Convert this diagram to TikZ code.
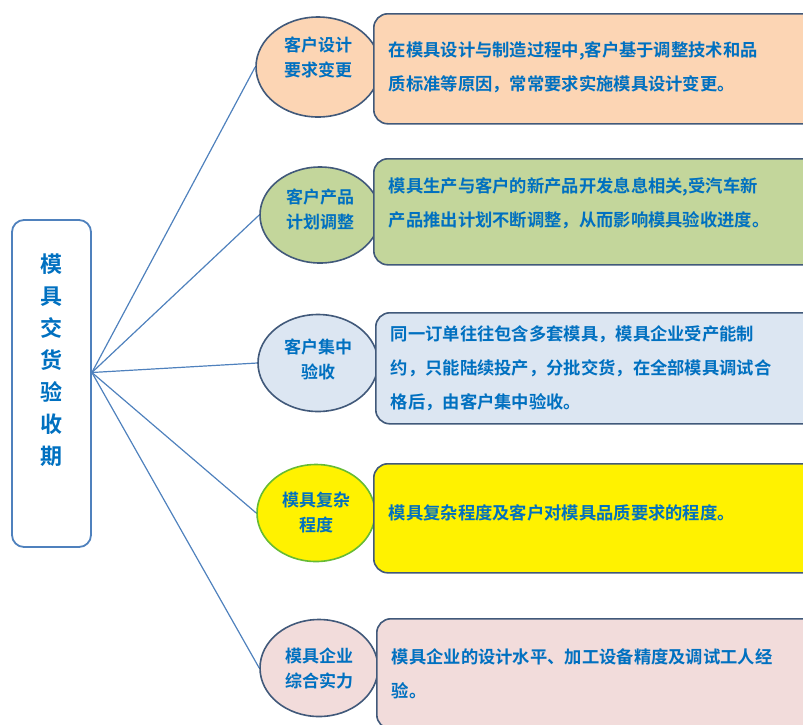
\documentclass[tikz,border=0pt]{standalone}
\usepackage{fontspec}
\newfontfamily\cjk{Noto Sans CJK SC Bold}
\usetikzlibrary{shapes.geometric}

\definecolor{txtblue}{HTML}{0070C0}
\definecolor{linkblue}{HTML}{4F81BD}
\definecolor{edgegray}{HTML}{41597A}
\definecolor{edgegreen}{HTML}{66BB33}
\definecolor{peach}{HTML}{FCD5B4}
\definecolor{olive}{HTML}{C3D69B}
\definecolor{paleblue}{HTML}{DCE6F2}
\definecolor{pink}{HTML}{F2DCDB}

\tikzset{
  factor/.style={ellipse, draw=edgegray, line width=1.6pt, minimum width=120, minimum height=97,
    inner sep=0pt, align=center, text=txtblue, font=\cjk\fontsize{17}{25}\selectfont},
  detail/.style={rectangle, rounded corners=14pt, draw=edgegray, line width=1.6pt, anchor=north west,
    text width=420pt, inner xsep=15pt, align=left, text=txtblue, font=\cjk\fontsize{17.3}{34}\selectfont},
  link/.style={draw=linkblue, line width=1.2pt}
}

\begin{document}
\begin{tikzpicture}[x=1pt, y=-1pt]
  \useasboundingbox (0,0) rectangle (803,724);

  % Delivery period (left)
  \node[rectangle, rounded corners=12pt, draw=linkblue, line width=1.8pt, minimum width=79, minimum height=327,
    align=center, text=txtblue, font=\cjk\fontsize{22}{32}\selectfont] (period) at (51.5,383.5)
    {模\\具\\交\\货\\验\\收\\期\\[16pt]\mbox{}};
  \coordinate (hub) at ([yshift=11pt]period.east);

  % Factors (ellipses)
  \node[factor, fill=peach, minimum width=124, minimum height=100] (f1) at (318,67) {客户设计\\要求变更\\[-5pt]\mbox{}};
  \node[factor, fill=olive, minimum height=96] (f2) at (320,215) {客户产品\\计划调整\\[-13pt]\mbox{}};
  \node[factor, fill=paleblue] (f3) at (318,363) {客户集中\\验收\\[-17pt]\mbox{}};
  \node[factor, fill=yellow, draw=edgegreen, minimum width=118] (f4) at (316,513) {模具复杂\\程度};
  \node[factor, fill=pink, minimum width=118] (f5) at (319,668) {模具企业\\综合实力};

  % Connect period to factors
  \foreach \i in {1,...,5} {
    \draw[link] (hub) -- (f\i.west);
  }

  % Details (boxes)
  \node[detail, fill=peach, minimum height=110] (d1) at (373,13)
    {在模具设计与制造过程中,客户基于调整技术和品\\质标准等原因，常常要求实施模具设计变更。\\[-28pt]\mbox{}};
  \node[detail, fill=olive, minimum height=106] (d2) at (373,158)
    {模具生产与客户的新产品开发息息相关,受汽车新\\产品推出计划不断调整，从而影响模具验收进度。\\[-14pt]\mbox{}};
  \node[detail, fill=paleblue, minimum height=111] (d3) at (375,312)
    {同一订单往往包含多套模具，模具企业受产能制\\约，只能陆续投产，分批交货，在全部模具调试合\\格后，由客户集中验收。};
  \node[detail, fill=yellow, minimum height=109] (d4) at (373,463)
    {模具复杂程度及客户对模具品质要求的程度。\\[-22pt]\mbox{}};
  \node[detail, fill=pink, minimum height=110] (d5) at (376,618)
    {模具企业的设计水平、加工设备精度及调试工人经\\验。};
\end{tikzpicture}
\end{document}
